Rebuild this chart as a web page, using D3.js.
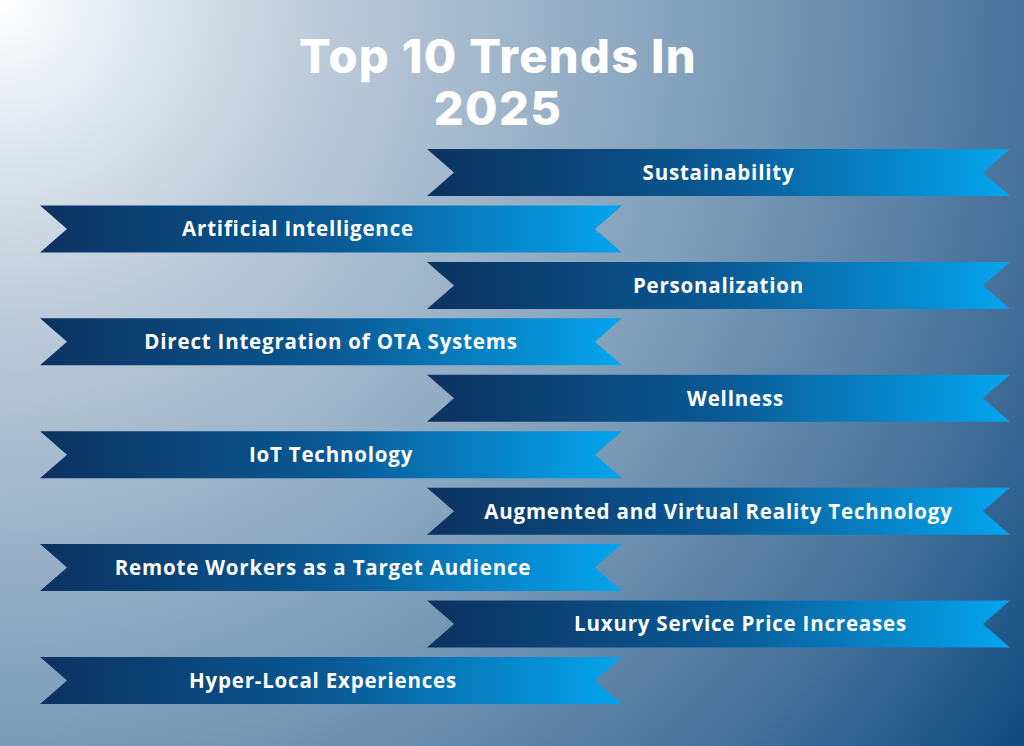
<!DOCTYPE html>
<html><head><meta charset="utf-8">
<script src="https://cdn.jsdelivr.net/npm/d3@7"></script>
<style>html,body{margin:0;padding:0;overflow:hidden;}svg{display:block;}</style>
</head><body>
<script>
const titleLines = ["Top 10 Trends In", "2025"];
const trends = [
  "Sustainability",
  "Artificial Intelligence",
  "Personalization",
  "Direct Integration of OTA Systems",
  "Wellness",
  "IoT Technology",
  "Augmented and Virtual Reality Technology",
  "Remote Workers as a Target Audience",
  "Luxury Service Price Increases",
  "Hyper-Local Experiences"
];
const ranks = [1,2,3,4,5,6,7,8,9,10];
// layout nudges for label centring (px), matching the original design
const labelDx = [0,-33,0,0,17,0,0,-8,22,-8];

const W = 1024, H = 746;
const svg = d3.select("body").append("svg").attr("width", W).attr("height", H);
const defs = svg.append("defs");

const bg = defs.append("radialGradient").attr("id","bg")
  .attr("gradientUnits","userSpaceOnUse").attr("cx",0).attr("cy",0).attr("r",1270);
[[0,"#ffffff"],[0.12,"#dde5ee"],[0.25,"#bccbda"],[0.56,"#819fba"],[0.82,"#46719a"],[1,"#0e4a80"]]
  .forEach(([o,c]) => bg.append("stop").attr("offset",o).attr("stop-color",c));

const rg = defs.append("linearGradient").attr("id","rib").attr("x1",0).attr("x2",1).attr("y1",0).attr("y2",0);
[[0,"#0c3260"],[0.5,"#0a5994"],[1,"#04a5ee"]]
  .forEach(([o,c]) => rg.append("stop").attr("offset",o).attr("stop-color",c));

svg.append("rect").attr("width",W).attr("height",H).attr("fill","url(#bg)");

svg.append("g").selectAll("text").data(titleLines).join("text")
  .attr("x", 498).attr("y",(d,i)=>73+i*52)
  .attr("text-anchor","middle")
  .attr("font-family","Inter, 'Open Sans', sans-serif")
  .attr("font-weight",800).attr("font-size",47)
  .attr("letter-spacing",1.3)
  .attr("fill","#fff").text(d=>d);

const y = d3.scaleBand().domain(ranks).range([149, 704]).paddingInner(0.167).paddingOuter(0);
const xRight = d3.scaleLinear().domain([0,1]).range([427,1010]);
const xLeft = d3.scaleLinear().domain([0,1]).range([40,622]);
const notch = 27;

const rows = svg.append("g").selectAll("g").data(trends).join("g");
rows.append("path")
  .attr("d",(d,i)=>{
    const xs = i%2===0 ? xRight : xLeft;
    const x0 = xs(0), x1 = xs(1), y0 = y(ranks[i]), h = y.bandwidth(), y1 = y0+h, ym = y0+h/2;
    return `M${x0},${y0}L${x1},${y0}L${x1-notch},${ym}L${x1},${y1}L${x0},${y1}L${x0+notch},${ym}Z`;
  })
  .attr("fill","url(#rib)");
rows.append("text")
  .attr("x",(d,i)=>{const xs = i%2===0 ? xRight : xLeft; return xs(0.5)+labelDx[i];})
  .attr("y",(d,i)=>y(ranks[i])+y.bandwidth()/2)
  .attr("dy","0.36em")
  .attr("text-anchor","middle")
  .attr("font-family","'Open Sans', sans-serif")
  .attr("font-weight",700).attr("font-size",20.5)
  .attr("letter-spacing",0.8)
  .attr("fill","#fff").text(d=>d);
</script>
</body></html>
